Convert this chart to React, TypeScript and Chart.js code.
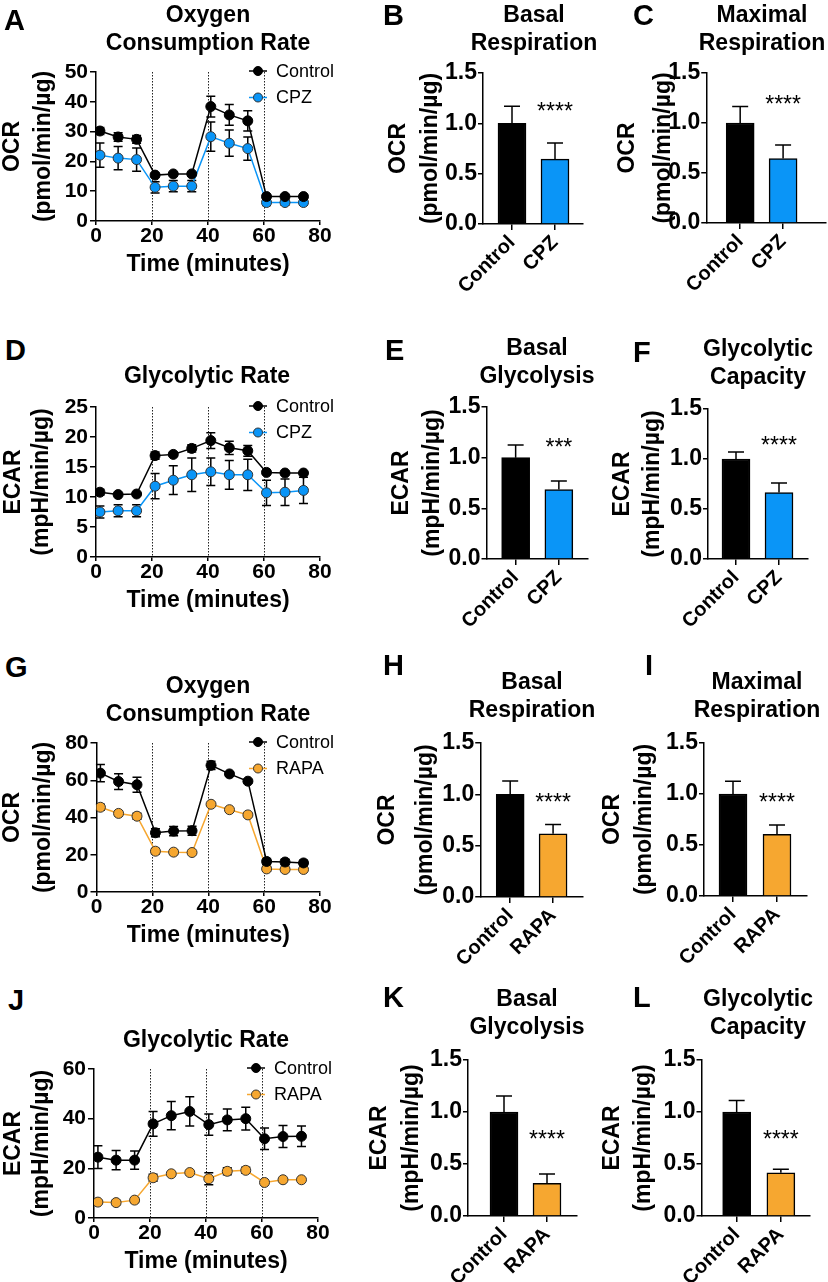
import React, { useEffect, useRef } from "react";
import { Chart, registerables } from "chart.js";

Chart.register(...registerables);

const FONT = "'Liberation Sans', Arial, Helvetica, sans-serif";
Chart.defaults.font.family = FONT;
Chart.defaults.color = "#000";

// ---------------- data ----------------
const measurementTimes = [1.4, 7.9, 14.5, 21.1, 27.6, 34.2, 41.0, 47.6, 54.2, 60.9, 67.5, 74.1];
const injectionTimes = [20, 40, 60];

const cpzCategories = ["Control", "CPZ"];
const rapaCategories = ["Control", "RAPA"];

// A: OCR, CPZ experiment
const ocrCpzControl = [30.2, 28.2, 27.4, 15.4, 15.8, 15.8, 38.4, 35.6, 33.6, 8.2, 8.2, 8.2];
const ocrCpzControlErr = [1.2, 1.4, 1.3, 0.5, 0.4, 0.4, 3.5, 3.5, 3.4, 0.6, 0.5, 0.5];
const ocrCpzTreated = [22.1, 21.1, 20.6, 11.3, 11.7, 11.7, 28.3, 26.1, 24.3, 6.2, 6.2, 6.2];
const ocrCpzTreatedErr = [4.1, 3.9, 3.9, 1.9, 1.9, 1.9, 4.9, 4.4, 3.9, 1.0, 0.8, 0.8];

// D: ECAR, CPZ experiment
const ecarCpzControl = [10.8, 10.4, 10.5, 16.9, 17.1, 18.1, 19.4, 18.2, 17.7, 14.1, 14.0, 14.0];
const ecarCpzControlErr = [0.5, 0.2, 0.2, 0.6, 0.3, 0.6, 1.3, 1.1, 0.9, 0.3, 0.2, 0.2];
const ecarCpzTreated = [7.5, 7.7, 7.7, 11.8, 12.8, 13.7, 14.2, 13.7, 13.7, 10.7, 10.8, 11.1];
const ecarCpzTreatedErr = [1.0, 1.0, 1.0, 2.1, 2.4, 2.8, 2.3, 2.4, 2.6, 2.1, 2.2, 2.2];

// G: OCR, RAPA experiment
const ocrRapaControl = [63.8, 59.3, 57.6, 31.8, 32.7, 32.9, 68.0, 63.4, 59.5, 16.4, 16.1, 15.6];
const ocrRapaControlErr = [4.6, 4.2, 4.0, 2.2, 2.5, 2.4, 2.2, 1.2, 0.8, 1.6, 1.5, 1.4];
const ocrRapaTreated = [45.5, 42.2, 40.7, 21.9, 21.4, 21.2, 47.1, 44.2, 41.4, 12.4, 12.1, 12.1];
const ocrRapaTreatedErr = [1.6, 1.3, 1.6, 1.5, 1.3, 0.6, 0.6, 0.5, 0.5, 1.2, 1.0, 1.0];

// J: ECAR, RAPA experiment
const ecarRapaControl = [24.5, 23.3, 23.3, 37.9, 41.2, 42.9, 37.6, 39.5, 40.0, 31.9, 32.8, 32.9];
const ecarRapaControlErr = [4.6, 3.9, 3.7, 5.0, 5.7, 5.9, 4.3, 4.4, 4.6, 4.3, 4.4, 4.1];
const ecarRapaTreated = [6.4, 6.2, 7.2, 16.2, 17.8, 18.3, 15.8, 18.8, 19.2, 14.3, 15.4, 15.4];
const ecarRapaTreatedErr = [0.5, 0.8, 1.0, 1.4, 0.5, 0.5, 2.4, 1.4, 1.2, 0.4, 0.3, 0.3];

// Bar panels (normalised to control)
const basalRespCpz = [1.0, 0.645];
const basalRespCpzErr = [0.17, 0.16];
const maxRespCpz = [1.0, 0.645];
const maxRespCpzErr = [0.165, 0.135];
const basalGlyCpz = [1.0, 0.685];
const basalGlyCpzErr = [0.125, 0.085];
const glyCapCpz = [1.0, 0.665];
const glyCapCpzErr = [0.07, 0.095];
const basalRespRapa = [1.0, 0.615];
const basalRespRapaErr = [0.13, 0.09];
const maxRespRapa = [1.0, 0.605];
const maxRespRapaErr = [0.125, 0.09];
const basalGlyRapa = [1.0, 0.315];
const basalGlyRapaErr = [0.155, 0.09];
const glyCapRapa = [1.0, 0.415];
const glyCapRapaErr = [0.11, 0.035];

// significance marks (text, y level in data units)
const sigB = { text: "****", level: 1.175 };
const sigC = { text: "****", level: 1.24 };
const sigE = { text: "***", level: 1.16 };
const sigF = { text: "****", level: 1.195 };
const sigH = { text: "****", level: 0.98 };
const sigI = { text: "****", level: 0.975 };
const sigK = { text: "****", level: 0.79 };
const sigL = { text: "****", level: 0.79 };

// ---------------- styles ----------------
const BLUE = "#0A95F7";
const ORANGE = "#F6A730";
const OCR_TITLE = ["OCR", "(pmol/min/µg)"];
const ECAR_TITLE = ["ECAR", "(mpH/min/µg)"];

type Rect = { l: number; t: number; r: number; b: number };

// ---------------- plugins ----------------
function errorBarPlugin(kind: "line" | "bar") {
  const draw = (chart: any) => {
    const ctx = chart.ctx;
    const ys = chart.scales.y;
    chart.data.datasets.forEach((ds: any, di: number) => {
      const errs: number[] | undefined = ds.errorBars;
      if (!errs) return;
      const meta = chart.getDatasetMeta(di);
      ctx.save();
      ctx.strokeStyle = "#000";
      ctx.lineWidth = 1.5;
      meta.data.forEach((el: any, i: number) => {
        const v = ds.data[i].y;
        const top = ys.getPixelForValue(v + errs[i]);
        const bot = kind === "line" ? ys.getPixelForValue(v - errs[i]) : el.y;
        const half = kind === "line" ? 4.5 : 8;
        ctx.beginPath();
        ctx.moveTo(el.x, top);
        ctx.lineTo(el.x, bot);
        ctx.moveTo(el.x - half, top);
        ctx.lineTo(el.x + half, top);
        if (kind === "line") {
          ctx.moveTo(el.x - half, bot);
          ctx.lineTo(el.x + half, bot);
        }
        ctx.stroke();
      });
      ctx.restore();
    });
  };
  return kind === "line"
    ? { id: "errorBars", beforeDatasetsDraw: draw }
    : { id: "errorBars", afterDatasetsDraw: draw };
}

const injectionLinesPlugin = {
  id: "injections",
  beforeDatasetsDraw(chart: any) {
    const { ctx, chartArea } = chart;
    const xs = chart.scales.x;
    ctx.save();
    ctx.setLineDash([1.5, 1.5]);
    ctx.strokeStyle = "#222";
    ctx.lineWidth = 1;
    injectionTimes.forEach((t) => {
      const px = Math.round(xs.getPixelForValue(t)) + 0.5;
      ctx.beginPath();
      ctx.moveTo(px, chartArea.top);
      ctx.lineTo(px, chartArea.bottom);
      ctx.stroke();
    });
    ctx.restore();
  },
};

const seriesLegendPlugin = {
  id: "seriesLegend",
  afterDatasetsDraw(chart: any) {
    const { ctx, chartArea } = chart;
    chart.data.datasets.forEach((ds: any, i: number) => {
      const y = chartArea.top - 1 + i * 26.5;
      const r = chartArea.right;
      ctx.save();
      ctx.strokeStyle = ds.borderColor;
      ctx.lineWidth = 1.5;
      ctx.beginPath();
      ctx.moveTo(r - 71, y);
      ctx.lineTo(r - 53, y);
      ctx.stroke();
      ctx.beginPath();
      ctx.arc(r - 62, y, 4.5, 0, Math.PI * 2);
      ctx.fillStyle = ds.pointBackgroundColor;
      ctx.fill();
      ctx.lineWidth = 1;
      ctx.strokeStyle = ds.pointBorderColor;
      ctx.stroke();
      ctx.fillStyle = "#000";
      ctx.font = `18px ${FONT}`;
      ctx.textAlign = "left";
      ctx.textBaseline = "middle";
      ctx.fillText(ds.label, r - 44, y + 1);
      ctx.restore();
    });
  },
};

function starsPlugin(sig: { text: string; level: number }) {
  return {
    id: "stars",
    afterDatasetsDraw(chart: any) {
      const { ctx } = chart;
      const xs = chart.scales.x;
      const ys = chart.scales.y;
      const size = 23;
      ctx.save();
      ctx.font = `${size}px ${FONT}`;
      ctx.fillStyle = "#000";
      ctx.textAlign = "center";
      ctx.textBaseline = "alphabetic";
      ctx.fillText(sig.text, xs.getPixelForValue(1), ys.getPixelForValue(sig.level) + 0.58 * size);
      ctx.restore();
    },
  };
}

// ---------------- panel definitions ----------------
type LinePanel = {
  plot: Rect;
  yTitleX: [number, number];
  yMax: number;
  yStep: number;
  yTitle: string[];
  control: number[];
  controlErr: number[];
  treated: number[];
  treatedErr: number[];
  treatedLabel: string;
  color: string;
};

type BarPanel = {
  plot: Rect;
  centers: [number, number];
  yTitleX: [number, number];
  yTitle: string[];
  values: number[];
  errs: number[];
  categories: string[];
  color: string;
  sig: { text: string; level: number };
  canvasRight?: number;
};

const linePanels: LinePanel[] = [
  {
    plot: { l: 96, t: 72, r: 320, b: 221 }, yTitleX: [12.5, 43.5], yMax: 50, yStep: 10, yTitle: OCR_TITLE,
    control: ocrCpzControl, controlErr: ocrCpzControlErr, treated: ocrCpzTreated, treatedErr: ocrCpzTreatedErr,
    treatedLabel: "CPZ", color: BLUE,
  },
  {
    plot: { l: 96, t: 407, r: 320, b: 557 }, yTitleX: [14, 42], yMax: 25, yStep: 5, yTitle: ECAR_TITLE,
    control: ecarCpzControl, controlErr: ecarCpzControlErr, treated: ecarCpzTreated, treatedErr: ecarCpzTreatedErr,
    treatedLabel: "CPZ", color: BLUE,
  },
  {
    plot: { l: 96, t: 743, r: 319, b: 892 }, yTitleX: [12, 43], yMax: 80, yStep: 20, yTitle: OCR_TITLE,
    control: ocrRapaControl, controlErr: ocrRapaControlErr, treated: ocrRapaTreated, treatedErr: ocrRapaTreatedErr,
    treatedLabel: "RAPA", color: ORANGE,
  },
  {
    plot: { l: 94, t: 1069, r: 318, b: 1218 }, yTitleX: [14, 42], yMax: 60, yStep: 20, yTitle: ECAR_TITLE,
    control: ecarRapaControl, controlErr: ecarRapaControlErr, treated: ecarRapaTreated, treatedErr: ecarRapaTreatedErr,
    treatedLabel: "RAPA", color: ORANGE,
  },
];

const barPanels: BarPanel[] = [
  { plot: { l: 483, t: 73, r: 583, b: 224 }, centers: [512, 555], yTitleX: [399, 431], yTitle: OCR_TITLE,
    values: basalRespCpz, errs: basalRespCpzErr, categories: cpzCategories, color: BLUE, sig: sigB },
  { plot: { l: 706, t: 73, r: 826, b: 223 }, centers: [740, 783], yTitleX: [627.5, 663], yTitle: OCR_TITLE,
    values: maxRespCpz, errs: maxRespCpzErr, categories: cpzCategories, color: BLUE, sig: sigC, canvasRight: 828 },
  { plot: { l: 486, t: 407, r: 587, b: 559 }, centers: [515, 558], yTitleX: [401, 432], yTitle: ECAR_TITLE,
    values: basalGlyCpz, errs: basalGlyCpzErr, categories: cpzCategories, color: BLUE, sig: sigE },
  { plot: { l: 708, t: 409, r: 808, b: 559 }, centers: [736, 779], yTitleX: [623, 653], yTitle: ECAR_TITLE,
    values: glyCapCpz, errs: glyCapCpzErr, categories: cpzCategories, color: BLUE, sig: sigF },
  { plot: { l: 480, t: 743, r: 583, b: 897 }, centers: [510, 553], yTitleX: [387.5, 425], yTitle: OCR_TITLE,
    values: basalRespRapa, errs: basalRespRapaErr, categories: rapaCategories, color: ORANGE, sig: sigH },
  { plot: { l: 704, t: 743, r: 807, b: 896 }, centers: [733, 777], yTitleX: [613, 645], yTitle: OCR_TITLE,
    values: maxRespRapa, errs: maxRespRapaErr, categories: rapaCategories, color: ORANGE, sig: sigI },
  { plot: { l: 468, t: 1060, r: 577, b: 1216 }, centers: [504, 547], yTitleX: [380, 412], yTitle: ECAR_TITLE,
    values: basalGlyRapa, errs: basalGlyRapaErr, categories: rapaCategories, color: ORANGE, sig: sigK },
  { plot: { l: 701, t: 1060, r: 809, b: 1216 }, centers: [736, 780], yTitleX: [612, 643], yTitle: ECAR_TITLE,
    values: glyCapRapa, errs: glyCapRapaErr, categories: rapaCategories, color: ORANGE, sig: sigL },
];

const panelLetters = [
  { t: "A", x: 4, y: 10 }, { t: "B", x: 383, y: 5 }, { t: "C", x: 633, y: 5 },
  { t: "D", x: 5, y: 340 }, { t: "E", x: 385, y: 340 }, { t: "F", x: 633, y: 342 },
  { t: "G", x: 5, y: 657 }, { t: "H", x: 383, y: 655 }, { t: "I", x: 645, y: 655 },
  { t: "J", x: 8, y: 990 }, { t: "K", x: 383, y: 987 }, { t: "L", x: 633, y: 987 },
];

const panelTitles = [
  { lines: ["Oxygen", "Consumption Rate"], cx: 208, top: 0 },
  { lines: ["Basal", "Respiration"], cx: 534, top: 0 },
  { lines: ["Maximal", "Respiration"], cx: 762, top: 0 },
  { lines: ["Glycolytic Rate"], cx: 207, top: 361 },
  { lines: ["Basal", "Glycolysis"], cx: 537, top: 333 },
  { lines: ["Glycolytic", "Capacity"], cx: 758, top: 334 },
  { lines: ["Oxygen", "Consumption Rate"], cx: 208, top: 671 },
  { lines: ["Basal", "Respiration"], cx: 532, top: 667 },
  { lines: ["Maximal", "Respiration"], cx: 757, top: 667 },
  { lines: ["Glycolytic Rate"], cx: 206, top: 1025 },
  { lines: ["Basal", "Glycolysis"], cx: 527, top: 984 },
  { lines: ["Glycolytic", "Capacity"], cx: 758, top: 984 },
];

// ---------------- config builders ----------------
type Built = { left: number; top: number; width: number; height: number; config: any };

const axisGrid = (tickLength: number) => ({
  display: true,
  drawOnChartArea: false,
  drawTicks: true,
  tickLength,
  color: "#000",
  lineWidth: 1.5,
});
const axisBorder = { display: true, color: "#000", width: 1.5 };

function buildLine(p: LinePanel): Built {
  const lh = p.yTitleX[1] - p.yTitleX[0];
  const left = p.yTitleX[0] - lh / 2;
  const padTop = 24;
  const padRight = 22;
  const xAxisH = 64;
  const top = p.plot.t - padTop;
  const width = p.plot.r + padRight - left;
  const height = p.plot.b + xAxisH - top;
  const yAxisW = p.plot.l - left;
  const mk = (vals: number[]) => measurementTimes.map((x, i) => ({ x, y: vals[i] }));
  const config = {
    type: "line",
    data: {
      datasets: [
        {
          label: "Control", data: mk(p.control), errorBars: p.controlErr,
          borderColor: "#000", backgroundColor: "#000", pointBackgroundColor: "#000", pointBorderColor: "#000",
          pointRadius: 5, pointBorderWidth: 1, borderWidth: 1.5, tension: 0,
        },
        {
          label: p.treatedLabel, data: mk(p.treated), errorBars: p.treatedErr,
          borderColor: p.color, backgroundColor: p.color, pointBackgroundColor: p.color, pointBorderColor: "#333",
          pointRadius: 5, pointBorderWidth: 1, borderWidth: 1.5, tension: 0,
        },
      ],
    },
    options: {
      responsive: false, animation: false, devicePixelRatio: 1,
      layout: { padding: { left: 0, top: padTop, right: padRight, bottom: 0 } },
      plugins: { legend: { display: false }, tooltip: { enabled: false }, title: { display: false } },
      scales: {
        x: {
          type: "linear", min: 0, max: 80,
          ticks: { stepSize: 20, autoSkip: false, maxRotation: 0, color: "#000", padding: 1,
            font: { size: 21, weight: "bold", lineHeight: 1 } },
          grid: axisGrid(4), border: axisBorder,
          title: { display: true, text: "Time (minutes)", color: "#000",
            font: { size: 23, weight: "bold", lineHeight: 1.2 }, padding: { top: 0, bottom: 7 } },
          afterFit: (s: any) => { s.height = xAxisH; },
        },
        y: {
          type: "linear", min: 0, max: p.yMax,
          ticks: { stepSize: p.yStep, color: "#000", padding: 2, font: { size: 21, weight: "bold", lineHeight: 1 } },
          grid: axisGrid(6), border: axisBorder,
          title: { display: true, text: p.yTitle, color: "#000",
            font: { size: 23, weight: "bold", lineHeight: lh / 23 }, padding: { top: 0, bottom: 0 } },
          afterFit: (s: any) => { s.width = yAxisW; },
        },
      },
    },
    plugins: [injectionLinesPlugin, errorBarPlugin("line"), seriesLegendPlugin],
  };
  return { left, top, width, height, config };
}

function buildBar(p: BarPanel): Built {
  const lh = p.yTitleX[1] - p.yTitleX[0];
  const left = p.yTitleX[0] - lh / 2;
  const padTop = 22;
  const xAxisH = 74;
  const top = p.plot.t - padTop;
  const right = p.canvasRight ?? p.plot.r + 8;
  const width = right - left;
  const height = p.plot.b + xAxisH - top;
  const yAxisW = p.plot.l - left;
  const unit = p.centers[1] - p.centers[0];
  const xMin = -(p.centers[0] - p.plot.l) / unit;
  const xMax = xMin + (p.plot.r - p.plot.l) / unit;
  const config = {
    type: "bar",
    data: {
      datasets: [
        {
          label: p.categories[1],
          data: p.values.map((y, i) => ({ x: i, y })),
          errorBars: p.errs,
          backgroundColor: ["#000", p.color],
          borderColor: "#000",
          borderWidth: 1.5,
          barThickness: 28,
        },
      ],
    },
    options: {
      responsive: false, animation: false, devicePixelRatio: 1,
      layout: { padding: { left: 0, top: padTop, right: right - p.plot.r, bottom: 0 } },
      plugins: { legend: { display: false }, tooltip: { enabled: false }, title: { display: false } },
      scales: {
        x: {
          type: "linear", min: xMin, max: xMax, offset: false,
          afterBuildTicks: (s: any) => { s.ticks = p.categories.map((_, i) => ({ value: i })); },
          ticks: { autoSkip: false, minRotation: 45, maxRotation: 45, color: "#000", padding: 1,
            font: { size: 20, weight: "bold", lineHeight: 1.2 },
            callback: (v: number) => p.categories[Math.round(v)] },
          grid: { ...axisGrid(6), offset: false }, border: axisBorder,
          afterFit: (s: any) => { s.height = xAxisH; },
        },
        y: {
          type: "linear", min: 0, max: 1.5,
          ticks: { stepSize: 0.5, color: "#000", padding: 1, font: { size: 23, weight: "bold", lineHeight: 1 },
            callback: (v: number) => v.toFixed(1) },
          grid: axisGrid(5), border: axisBorder,
          title: { display: true, text: p.yTitle, color: "#000",
            font: { size: 23, weight: "bold", lineHeight: lh / 23 }, padding: { top: 0, bottom: 0 } },
          afterFit: (s: any) => { s.width = yAxisW; },
        },
      },
    },
    plugins: [errorBarPlugin("bar"), starsPlugin(p.sig)],
  };
  return { left, top, width, height, config };
}

// ---------------- components ----------------
function ChartCanvas({ built }: { built: Built }) {
  const ref = useRef<HTMLCanvasElement | null>(null);
  useEffect(() => {
    if (!ref.current) return;
    const chart = new Chart(ref.current, built.config);
    return () => chart.destroy();
  }, [built]);
  return (
    <canvas
      ref={ref}
      width={Math.round(built.width)}
      height={Math.round(built.height)}
      style={{ position: "absolute", left: built.left, top: built.top, width: Math.round(built.width), height: Math.round(built.height) }}
    />
  );
}

const builtPanels: Built[] = [...linePanels.map(buildLine), ...barPanels.map(buildBar)];

export default function App() {
  return (
    <div
      style={{
        position: "absolute", left: 0, top: 0, width: 828, height: 1282,
        background: "#fff", overflow: "hidden", fontFamily: FONT, color: "#000",
      }}
    >
      {builtPanels.map((b, i) => (
        <ChartCanvas key={i} built={b} />
      ))}
      {panelTitles.map((t, i) => (
        <div
          key={"t" + i}
          style={{
            position: "absolute", left: t.cx - 150, top: t.top, width: 300, textAlign: "center",
            fontSize: 23, lineHeight: "28px", fontWeight: "bold", whiteSpace: "nowrap",
          }}
        >
          {t.lines.map((l, j) => (
            <div key={j}>{l}</div>
          ))}
        </div>
      ))}
      {panelLetters.map((l) => (
        <div
          key={l.t}
          style={{
            position: "absolute", left: l.x, top: l.y - 4, fontSize: 29, lineHeight: "29px", fontWeight: "bold",
          }}
        >
          {l.t}
        </div>
      ))}
    </div>
  );
}
